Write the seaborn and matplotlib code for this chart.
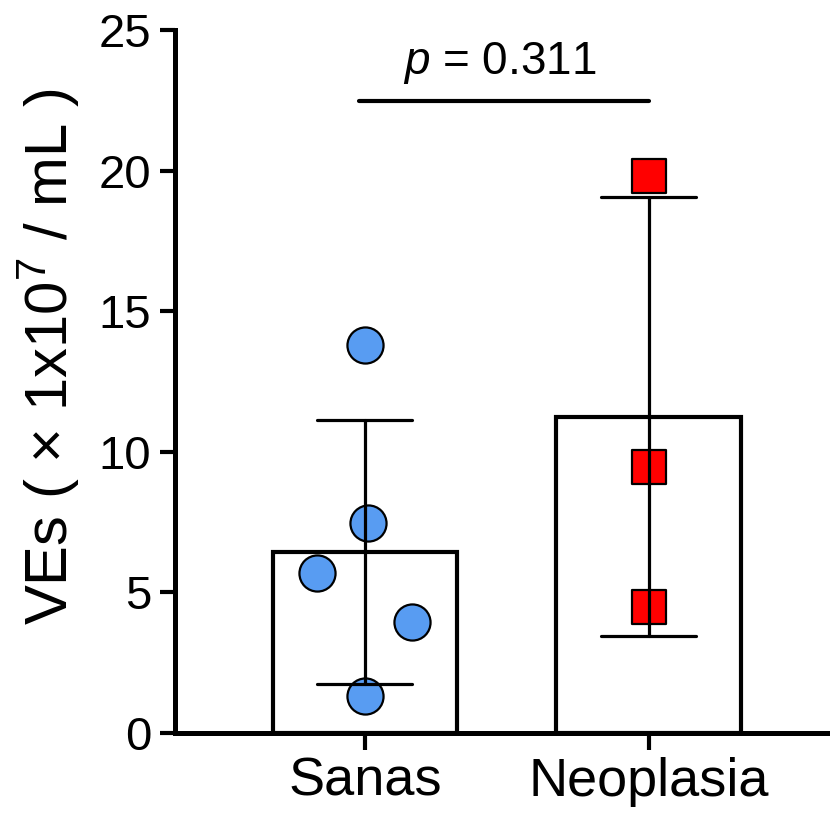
import pandas as pd
import numpy as np
import matplotlib
matplotlib.use("Agg")
import matplotlib.pyplot as plt
import seaborn as sns

# ── Data ──────────────────────────────────────────────────────────────────────
GROUPS = ["Sanas", "Neoplasia"]
SANAS_VALUES = [13.8, 7.47, 5.69, 3.95, 1.32]
NEO_VALUES = [19.8, 9.46, 4.48]
P_VALUE = "0.311"

# horizontal nudge of the scatter points (GraphPad-style spread)
SANAS_NUDGE = [0.0, 0.01, -0.17, 0.165, 0.0]
NEO_NUDGE = [0.0, 0.0, 0.0]

COLORS = {"Sanas": "#589CF2", "Neoplasia": "#FF0000"}
MARKERS = {"Sanas": "o", "Neoplasia": "s"}

df = pd.DataFrame({
    "Group": ["Sanas"] * len(SANAS_VALUES) + ["Neoplasia"] * len(NEO_VALUES),
    "VEs": SANAS_VALUES + NEO_VALUES,
})

# ── Style ─────────────────────────────────────────────────────────────────────
sns.set_style("ticks")
plt.rcParams["font.family"] = ["Liberation Sans", "DejaVu Sans"]
plt.rcParams["mathtext.fontset"] = "custom"
plt.rcParams["mathtext.rm"] = "Liberation Sans"
plt.rcParams["mathtext.it"] = "Liberation Sans:italic"
plt.rcParams["text.color"] = "black"
plt.rcParams["axes.labelcolor"] = "black"
plt.rcParams["xtick.color"] = "black"
plt.rcParams["ytick.color"] = "black"
plt.rcParams["axes.edgecolor"] = "black"

fig = plt.figure(figsize=(8.3, 8.18), dpi=100)
ax = fig.add_axes([175 / 830, 85 / 818, 1 - 175 / 830, (733 - 30) / 818])

# bars: mean +/- SD
sns.barplot(data=df, x="Group", y="VEs", order=GROUPS, errorbar="sd",
            color="white", edgecolor="black", linewidth=3, width=0.65,
            capsize=0.335, err_kws={"color": "black", "linewidth": 2.3, "zorder": 5},
            ax=ax)

# individual points
for g, nudge in [("Sanas", SANAS_NUDGE), ("Neoplasia", NEO_NUDGE)]:
    sub = df[df["Group"] == g]
    n_before = len(ax.collections)
    sns.stripplot(data=sub, x="Group", y="VEs", order=GROUPS, jitter=False,
                  marker=MARKERS[g], color=COLORS[g], size=26 if g == "Sanas" else 25,
                  edgecolor="black", linewidth=1.6, zorder=4, ax=ax)
    for coll in ax.collections[n_before:]:
        offs = coll.get_offsets()
        if len(offs) == len(nudge):
            offs[:, 0] = offs[:, 0] + np.array(nudge)
            coll.set_offsets(offs)

# significance bar
ax.plot([-0.02, 1.0], [22.47, 22.47], color="black", linewidth=3, clip_on=False)
ax.text(0.477, 23.45, r"$p$ = " + P_VALUE, ha="center", va="baseline",
        fontsize=33, clip_on=False)

ax.set_xlim(-0.67, 1.64)
ax.set_ylim(0, 25)
ax.set_yticks([0, 5, 10, 15, 20, 25])
ax.set_xlabel("")
ax.set_ylabel(r"VEs ( × 1x10$^{7}$ / mL )", fontsize=43, labelpad=12, y=0.535)
ax.tick_params(axis="y", labelsize=34, length=11, width=3, pad=6)
ax.tick_params(axis="x", labelsize=39, length=12, width=3, pad=5)
sns.despine(ax=ax)
ax.spines["left"].set_linewidth(3.6)
ax.spines["bottom"].set_linewidth(3.6)

fig.savefig("out.png", dpi=100)
